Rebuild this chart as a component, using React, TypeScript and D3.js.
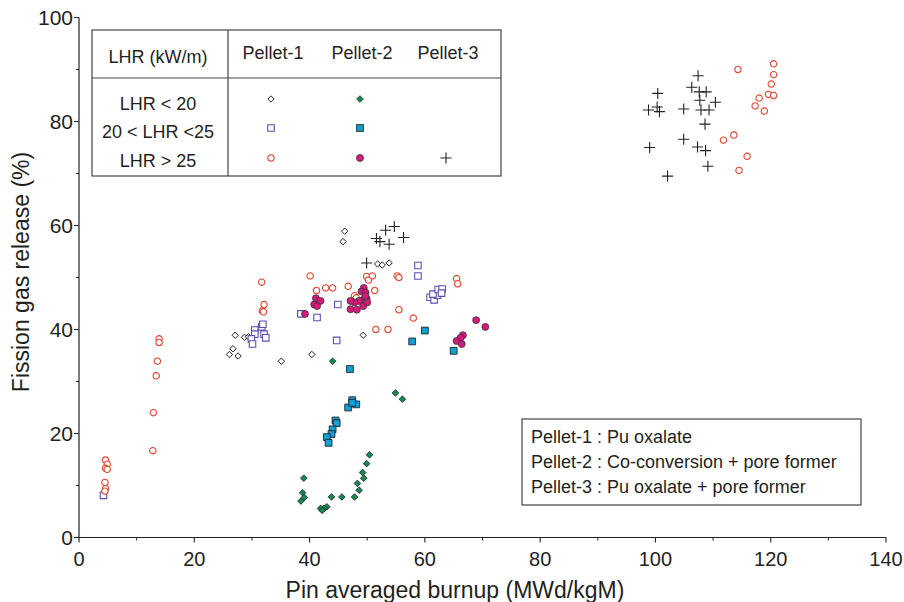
import React from "react"
import * as d3 from "d3"

// Pellet-1 (Pu oxalate)
const p1Low = [
  [46.1, 58.9], [45.8, 56.9], [27.1, 38.9], [28.7, 38.5], [29.4, 38.6], [26.7, 36.3],
  [26.1, 35.2], [27.6, 34.9], [35.1, 33.9], [40.4, 35.2], [49.3, 38.9], [51.8, 52.6],
  [52.6, 52.4], [53.8, 52.8]
]
const p1Mid = [
  [4.25, 8.1], [58.8, 52.3], [58.8, 50.3], [60.9, 46.2], [61.6, 45.7], [62.2, 46.6],
  [61.4, 46.8], [62.3, 47.7], [63.0, 47.8], [62.9, 47.0], [44.9, 44.8], [41.3, 42.3],
  [38.5, 43.0], [44.7, 37.9], [30.5, 39.9], [30.5, 39.1], [29.9, 38.2], [30.1, 37.2],
  [31.7, 40.5], [31.9, 41.0], [32.1, 39.1], [32.4, 38.4]
]
const p1High = [
  [4.6, 14.9], [4.9, 14.1], [4.6, 13.3], [4.9, 13.1], [4.5, 10.6], [4.6, 9.4], [4.5, 8.9],
  [12.8, 16.7], [12.9, 24.0], [13.4, 31.1], [13.6, 33.9], [13.9, 38.2], [13.9, 37.5],
  [31.7, 49.1], [32.1, 44.8], [31.8, 43.6], [32.0, 43.4], [40.1, 50.3], [41.2, 47.5],
  [42.8, 48.0], [44.0, 48.0], [46.7, 48.3], [47.8, 46.5], [48.1, 46.1], [49.9, 50.2],
  [50.2, 49.5], [50.9, 50.3], [51.3, 47.5], [55.2, 50.3], [55.5, 50.0], [55.5, 43.8],
  [58.0, 42.2], [51.5, 40.0], [53.6, 40.0], [65.5, 49.8], [65.7, 48.8],
  [114.3, 90.0], [120.5, 91.1], [120.5, 89.0], [120.1, 87.2], [119.6, 85.2], [120.5, 85.0],
  [118.0, 84.5], [117.3, 83.0], [118.9, 82.0], [113.6, 77.4], [111.8, 76.4], [115.9, 73.3],
  [114.5, 70.6]
]

// Pellet-2 (Co-conversion + pore former)
const p2Low = [
  [44.0, 33.9], [54.9, 27.8], [56.1, 26.6], [50.4, 15.9], [49.9, 14.2], [49.2, 12.5],
  [49.4, 11.4], [48.3, 10.4], [48.6, 9.1], [47.8, 7.8], [45.6, 7.8], [43.8, 7.8],
  [43.0, 5.9], [42.5, 5.6], [41.9, 5.6], [42.2, 5.2], [39.0, 11.4], [38.8, 8.6],
  [39.1, 7.7], [38.5, 7.0]
]
const p2Mid = [
  [60.0, 39.8], [57.8, 37.7], [65.0, 35.9], [47.0, 32.4], [47.4, 26.4], [46.7, 25.0],
  [48.1, 25.6], [47.4, 25.9], [44.5, 22.5], [44.7, 22.0], [44.0, 20.8], [43.8, 19.9],
  [43.0, 19.3], [43.3, 18.2]
]
const p2High = [
  [39.2, 43.0], [41.1, 46.0], [41.9, 45.5], [40.8, 44.8], [41.3, 44.5], [49.4, 48.0],
  [49.0, 47.3], [49.7, 47.1], [49.9, 45.9], [49.3, 45.7], [48.6, 45.5], [47.8, 45.2],
  [47.1, 45.5], [47.1, 43.9], [48.2, 43.8], [49.3, 44.5], [50.0, 45.2], [49.7, 46.4],
  [68.9, 41.8], [70.5, 40.5], [66.6, 38.9], [66.2, 38.4], [65.5, 37.8], [66.4, 37.2]
]

// Pellet-3 (Pu oxalate + pore former)
const p3High = [
  [53.2, 59.1], [54.7, 59.8], [51.6, 57.5], [52.2, 56.9], [53.8, 56.4], [56.3, 57.7],
  [49.9, 52.8], [107.4, 88.8], [106.3, 86.6], [107.6, 85.7], [108.8, 85.7], [107.7, 84.1],
  [110.4, 83.7], [100.4, 85.4], [100.3, 82.8], [100.7, 81.9], [98.8, 82.2], [104.9, 82.4],
  [107.9, 82.2], [109.3, 82.2], [108.6, 79.5], [104.9, 76.6], [99.0, 75.0], [107.3, 75.1],
  [108.7, 74.4], [109.1, 71.4], [102.1, 69.5]
]

const xTicks = [0, 20, 40, 60, 80, 100, 120, 140]
const yTicks = [0, 20, 40, 60, 80, 100]
const lhrRows = ["LHR < 20", "20 < LHR <25", "LHR > 25"]
const pelletCols = ["Pellet-1", "Pellet-2", "Pellet-3"]
const notes = ["Pellet-1 : Pu oxalate", "Pellet-2 : Co-conversion + pore former", "Pellet-3 : Pu oxalate + pore former"]

const FONT = "'Liberation Sans', Arial, sans-serif"
const TXT = "#231f20"

const styles = {
  openDiamond: { type: d3.symbolDiamond2, size: 26, fill: "white", stroke: "#222", sw: 1 },
  openSquare: { type: d3.symbolSquare2, size: 54, fill: "white", stroke: "#5552b0", sw: 1.1 },
  openCircle: { type: d3.symbolCircle, size: 32, fill: "white", stroke: "#e2432f", sw: 1.1 },
  fillDiamond: { type: d3.symbolDiamond2, size: 28, fill: "#138a52", stroke: "#222", sw: 0.8 },
  fillSquare: { type: d3.symbolSquare, size: 46, fill: "#0ea1d6", stroke: "#222", sw: 0.9 },
  fillCircle: { type: d3.symbolCircle, size: 38, fill: "#d7197c", stroke: "#333", sw: 0.8 },
  plus: { type: d3.symbolPlus, size: 42, fill: "none", stroke: "#222", sw: 1.1 }
}

const series = [
  { data: p1Low, st: styles.openDiamond },
  { data: p1Mid, st: styles.openSquare },
  { data: p1High, st: styles.openCircle },
  { data: p2Low, st: styles.fillDiamond },
  { data: p2Mid, st: styles.fillSquare },
  { data: p2High, st: styles.fillCircle },
  { data: p3High, st: styles.plus }
]

const legendCells = [
  [styles.openDiamond, styles.fillDiamond, null],
  [styles.openSquare, styles.fillSquare, null],
  [styles.openCircle, styles.fillCircle, styles.plus]
]

function Marker({ x, y, st }) {
  const d = d3.symbol().type(st.type).size(st.size)()
  return <path d={d} transform={`translate(${x},${y})`} fill={st.fill} stroke={st.stroke} strokeWidth={st.sw} />
}

export default function App() {
  const x = d3.scaleLinear().domain([0, 140]).range([79, 886])
  const y = d3.scaleLinear().domain([0, 100]).range([537.5, 17.5])
  const xMinor = d3.range(10, 140, 20)
  const yMinor = d3.range(10, 100, 20)

  const colX = [271, 360, 446]
  const rowY = [99, 128, 158]
  const rowBase = [110, 138, 167]

  return (
    <svg width={904} height={602} style={{ position: "absolute", left: 0, top: 0, background: "white" }} fontFamily={FONT}>
      {/* axes */}
      <line x1={x(0)} x2={x(140)} y1={y(0)} y2={y(0)} stroke="#222" strokeWidth={1.2} />
      <line x1={x(0)} x2={x(0)} y1={y(0)} y2={y(100)} stroke="#222" strokeWidth={1.2} />
      {xTicks.map(t => (
        <g key={"xt" + t}>
          <line x1={x(t)} x2={x(t)} y1={y(0)} y2={y(0) + 5} stroke="#222" strokeWidth={1.1} />
          <text x={x(t)} y={566} textAnchor="middle" fontSize={20} fill={TXT}>{t}</text>
        </g>
      ))}
      {xMinor.map(t => <line key={"xm" + t} x1={x(t)} x2={x(t)} y1={y(0)} y2={y(0) + 3} stroke="#222" />)}
      {yTicks.map(t => (
        <g key={"yt" + t}>
          <line x1={x(0) - 5} x2={x(0)} y1={y(t)} y2={y(t)} stroke="#222" strokeWidth={1.1} />
          <text x={73} y={y(t)} dy="0.36em" textAnchor="end" fontSize={21} fill={TXT}>{t}</text>
        </g>
      ))}
      {yMinor.map(t => <line key={"ym" + t} x1={x(0) - 3} x2={x(0)} y1={y(t)} y2={y(t)} stroke="#222" />)}

      <text x={455} y={598} textAnchor="middle" fontSize={23} fill={TXT}>Pin averaged burnup (MWd/kgM)</text>
      <text transform="translate(29,272) rotate(-90)" textAnchor="middle" fontSize={23} fill={TXT}>Fission gas release (%)</text>

      {/* points */}
      {series.map((s, i) => (
        <g key={"s" + i}>
          {s.data.map((p, j) => <Marker key={j} x={x(p[0])} y={y(p[1])} st={s.st} />)}
        </g>
      ))}

      {/* LHR table */}
      <g>
        <rect x={92} y={30} width={409} height={146} fill="white" stroke="#444" strokeWidth={1.2} />
        <line x1={92} x2={501} y1={78} y2={78} stroke="#444" strokeWidth={1.2} />
        <line x1={228} x2={228} y1={30} y2={176} stroke="#444" strokeWidth={1.2} />
        <text x={158} y={63} textAnchor="middle" fontSize={18} fill={TXT}>LHR (kW/m)</text>
        {pelletCols.map((c, i) => (
          <text key={c} x={colX[i] + 2} y={59} textAnchor="middle" fontSize={18} fill={TXT}>{c}</text>
        ))}
        {lhrRows.map((r, i) => (
          <text key={r} x={158} y={rowBase[i]} textAnchor="middle" fontSize={18} fill={TXT}>{r}</text>
        ))}
        {legendCells.map((row, i) =>
          row.map((st, j) => st ? <Marker key={i + "-" + j} x={colX[j]} y={rowY[i]} st={st} /> : null)
        )}
      </g>

      {/* notes box */}
      <g>
        <rect x={522} y={419} width={339} height={86} fill="white" stroke="#444" strokeWidth={1.2} />
        {notes.map((n, i) => (
          <text key={n} x={531} y={443 + i * 25} fontSize={18} fill={TXT}>{n}</text>
        ))}
      </g>
    </svg>
  )
}
